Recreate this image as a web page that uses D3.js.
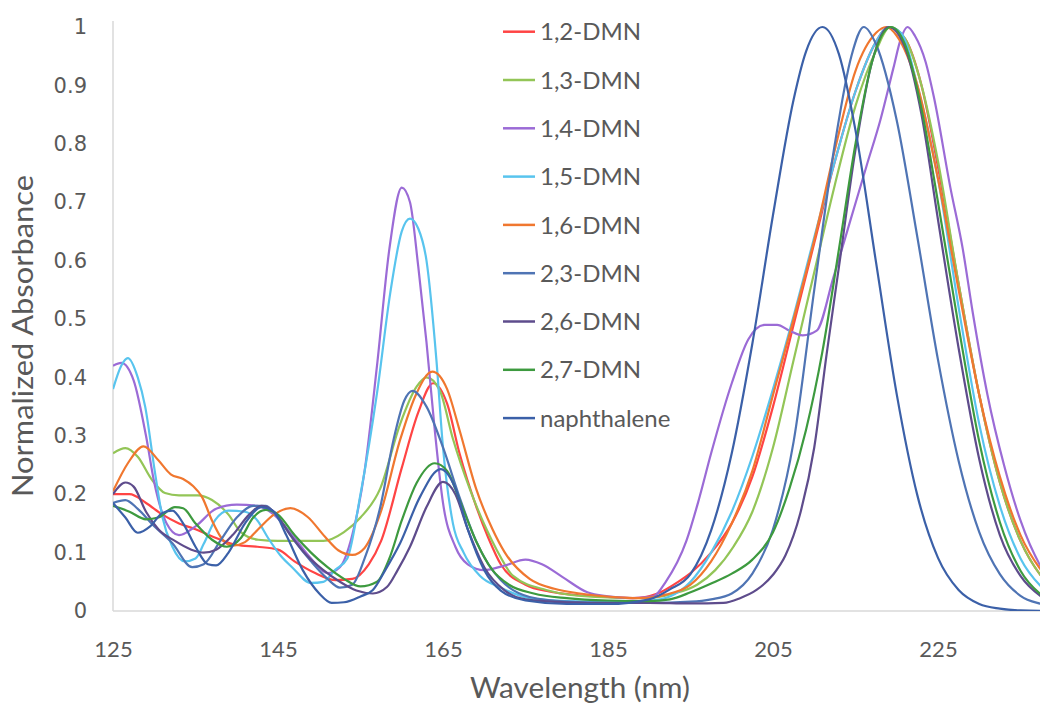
<!DOCTYPE html>
<html>
<head>
<meta charset="utf-8">
<script src="https://cdn.jsdelivr.net/npm/d3@7/dist/d3.min.js"></script>
<style>
  html, body { margin: 0; padding: 0; background: #ffffff; }
  svg { display: block; }
</style>
</head>
<body>
<div id="chart"></div>
<script>
// Normalized absorbance spectra of dimethylnaphthalene isomers and naphthalene.
// Each series is a list of [wavelength (nm), normalized absorbance] points.
const dmn12 = [[125,0.2],[127,0.2],[129,0.185],[131,0.165],[133,0.15],[135,0.14],[137.5,0.125],[140,0.113],[142.5,0.11],[145,0.105],[147,0.085],[149.5,0.065],[152,0.053],[154,0.055],[156,0.08],[157.5,0.12],[160,0.245],[162,0.34],[163.8,0.39],[165.5,0.355],[167,0.27],[169,0.18],[170.5,0.125],[172,0.08],[175,0.045],[178,0.033],[181.5,0.027],[185,0.024],[188,0.022],[191,0.03],[193.5,0.05],[195,0.065],[197.5,0.1],[200,0.15],[202.5,0.23],[205,0.35],[207.5,0.49],[210,0.63],[212.5,0.77],[215,0.89],[217.5,0.975],[219,1],[221,0.98],[223,0.9],[225,0.76],[227.5,0.56],[230,0.37],[232.5,0.22],[235,0.12],[237.5,0.06],[240,0.028]];

const dmn13 = [[125,0.27],[126.5,0.279],[128,0.264],[129.7,0.225],[131.3,0.202],[133,0.198],[135.3,0.198],[137,0.19],[139,0.165],[140.5,0.135],[142.6,0.122],[145,0.12],[147.5,0.12],[150.5,0.12],[153,0.135],[155,0.16],[157.4,0.21],[159.8,0.32],[161.8,0.384],[163,0.4],[164.6,0.378],[166.2,0.295],[168.3,0.207],[170.3,0.139],[171.5,0.105],[173.5,0.06],[177.5,0.036],[183.5,0.024],[189.5,0.022],[193,0.03],[195.8,0.045],[198,0.07],[200.2,0.11],[202.5,0.17],[205,0.28],[207.5,0.43],[210,0.58],[212.5,0.73],[215,0.865],[217.5,0.96],[219.2,1],[221,0.98],[223,0.9],[225,0.77],[227.5,0.56],[230,0.37],[232.5,0.22],[235,0.12],[237.5,0.06],[240,0.028]];

const dmn14 = [[125,0.42],[126,0.425],[127.5,0.395],[129,0.3],[130,0.22],[131.5,0.15],[133,0.13],[135,0.145],[137.5,0.175],[140,0.182],[142.5,0.18],[144.5,0.165],[147,0.125],[149,0.09],[151,0.065],[152.5,0.075],[154,0.13],[155.5,0.24],[157,0.42],[158.5,0.62],[160,0.725],[161,0.7],[162,0.59],[163,0.46],[164,0.31],[165,0.185],[166.5,0.11],[168,0.08],[170,0.07],[172.5,0.078],[175,0.088],[177,0.08],[179.5,0.058],[182.5,0.032],[185,0.025],[188,0.022],[190.5,0.025],[192,0.05],[194.5,0.12],[196,0.19],[197.5,0.27],[200,0.39],[202,0.465],[204,0.49],[205.5,0.49],[207,0.48],[208.6,0.472],[210.3,0.48],[212.3,0.57],[214.3,0.665],[216.4,0.765],[218,0.84],[219.6,0.93],[220.5,0.98],[221.3,1],[222.2,0.985],[223.5,0.94],[224.5,0.88],[226.5,0.725],[228,0.62],[229.2,0.512],[231,0.37],[233,0.25],[235,0.155],[237.5,0.075],[240,0.03]];

const dmn15 = [[125,0.38],[126,0.42],[126.8,0.433],[128,0.4],[128.9,0.35],[130.1,0.236],[131,0.16],[132.2,0.11],[133.7,0.085],[135,0.09],[136,0.115],[137.4,0.156],[139,0.172],[141,0.17],[142.5,0.155],[143.8,0.125],[145.3,0.095],[146.7,0.075],[149,0.048],[150.5,0.05],[151.9,0.07],[153.4,0.09],[155,0.2],[157,0.373],[158.6,0.544],[160,0.65],[161,0.672],[162,0.655],[163,0.6],[164.2,0.43],[165,0.28],[166.2,0.15],[167.5,0.1],[169.5,0.06],[172,0.04],[175.5,0.022],[180,0.017],[185,0.016],[190,0.018],[192.5,0.025],[195,0.05],[197.5,0.1],[200,0.17],[202.5,0.265],[205,0.38],[207.5,0.505],[210,0.64],[212.5,0.77],[215,0.89],[217.5,0.975],[219,1],[220.5,0.99],[222.5,0.9],[225,0.74],[227.5,0.52],[230,0.32],[232.5,0.18],[235,0.09],[237.5,0.042],[240,0.018]];

const dmn16 = [[125,0.205],[126.8,0.253],[128.7,0.282],[130.5,0.258],[132,0.234],[133.5,0.226],[134.7,0.214],[135.8,0.195],[137,0.155],[138.3,0.122],[139.5,0.112],[141,0.118],[142.6,0.14],[144.5,0.165],[146.5,0.176],[148.6,0.161],[150.7,0.127],[152.3,0.104],[154,0.096],[155.5,0.108],[157.4,0.167],[159.8,0.293],[161.8,0.373],[163.7,0.41],[165.5,0.38],[167,0.31],[169,0.21],[171,0.14],[172.5,0.1],[175.5,0.055],[178.5,0.038],[181.6,0.03],[185.6,0.024],[189,0.022],[192,0.028],[195,0.045],[197.5,0.085],[200,0.15],[202.5,0.24],[205,0.37],[207.5,0.5],[210,0.635],[212.5,0.79],[215,0.925],[217.5,0.99],[218.7,1],[220,0.985],[222.5,0.9],[225,0.74],[227.5,0.55],[230,0.37],[232.5,0.23],[235,0.13],[237.5,0.07],[240,0.035]];

const dmn23 = [[125,0.185],[126.5,0.19],[128,0.175],[130,0.145],[132.2,0.116],[134.6,0.075],[136,0.08],[138,0.12],[140,0.16],[142,0.18],[143.5,0.18],[145,0.16],[147,0.12],[149,0.085],[151,0.055],[152.5,0.04],[154,0.045],[155.5,0.09],[157.4,0.178],[159,0.293],[160.3,0.36],[161.3,0.377],[163,0.35],[165,0.28],[167,0.195],[169,0.12],[170.5,0.08],[172,0.053],[175.5,0.024],[180,0.016],[185,0.014],[190,0.014],[195,0.016],[197.5,0.02],[200,0.03],[202.5,0.064],[205,0.14],[207.5,0.29],[210,0.55],[212.5,0.8],[214.5,0.95],[216,1],[217.5,0.97],[220,0.84],[222.5,0.64],[225,0.43],[227.5,0.257],[230,0.135],[232.5,0.063],[235,0.026],[237.5,0.012],[240,0.005]];

const dmn26 = [[125,0.2],[126.5,0.22],[127.5,0.213],[129,0.17],[130.5,0.14],[132.5,0.12],[134.5,0.105],[136,0.1],[137.5,0.105],[139.5,0.13],[141.5,0.165],[143,0.18],[144.5,0.17],[146.5,0.13],[148.5,0.095],[150.5,0.07],[152.5,0.05],[154.5,0.035],[156.5,0.03],[158.2,0.041],[159.5,0.07],[161,0.11],[163,0.178],[165,0.221],[166.5,0.2],[168,0.14],[170,0.075],[172.5,0.035],[175,0.02],[180,0.015],[185,0.014],[190,0.014],[195,0.013],[199,0.014],[201,0.022],[203,0.036],[205,0.062],[206.5,0.095],[208.3,0.167],[210,0.28],[211.5,0.44],[213,0.59],[215,0.79],[217,0.94],[219,1],[221,0.965],[223,0.85],[225,0.67],[227.5,0.45],[230,0.26],[232.5,0.13],[235,0.06],[237.5,0.025],[240,0.01]];

const dmn27 = [[125,0.18],[127,0.17],[129,0.157],[130.5,0.16],[132.5,0.178],[133.5,0.176],[135,0.15],[137,0.122],[138.8,0.11],[140.5,0.125],[142,0.16],[143.5,0.173],[145,0.165],[147,0.13],[149,0.1],[151,0.075],[153,0.055],[155,0.042],[157,0.05],[158.5,0.09],[160,0.155],[161.8,0.219],[164,0.253],[165.5,0.24],[167,0.19],[169,0.12],[171,0.07],[173,0.045],[176,0.03],[180,0.022],[185,0.018],[190,0.017],[192.5,0.02],[195,0.032],[197.5,0.047],[200,0.064],[202.5,0.088],[205,0.135],[207,0.21],[209,0.31],[211,0.445],[213,0.62],[215,0.8],[217,0.94],[219.3,1],[221,0.97],[223,0.86],[225,0.7],[227.5,0.487],[230,0.29],[232.5,0.152],[235,0.069],[237.5,0.028],[240,0.01]];

const naphthalene = [[125,0.185],[126.5,0.16],[128,0.134],[129.5,0.145],[131,0.168],[132.2,0.172],[133.5,0.15],[135,0.11],[136.5,0.08],[137.5,0.078],[139,0.1],[141,0.15],[143,0.178],[144.5,0.17],[146,0.13],[148,0.07],[150,0.03],[151.5,0.014],[153,0.015],[155,0.025],[156.5,0.036],[158,0.07],[159.8,0.116],[162.2,0.195],[164.7,0.243],[166.5,0.21],[168,0.14],[170,0.07],[172,0.035],[175,0.018],[180,0.012],[185,0.012],[190,0.02],[192.5,0.037],[195,0.063],[197.5,0.138],[200,0.27],[202.5,0.458],[205,0.678],[207.5,0.876],[209,0.958],[211,1],[213,0.953],[215,0.823],[217.5,0.596],[220,0.371],[222.5,0.198],[225,0.091],[227.5,0.036],[230,0.012],[232.5,0.004],[235,0.001],[240,0]];

const seriesNames = ["1,2-DMN","1,3-DMN","1,4-DMN","1,5-DMN","1,6-DMN","2,3-DMN","2,6-DMN","2,7-DMN","naphthalene"];
const seriesData = [dmn12, dmn13, dmn14, dmn15, dmn16, dmn23, dmn26, dmn27, naphthalene];
const seriesColors = ["#ff4444","#93c557","#9b6bd6","#58c4ee","#f0772f","#4f74b4","#5e4c8c","#3d9a3f","#3b60a8"];

const xTicks = [125, 145, 165, 185, 205, 225];
const yTicks = [0, 0.1, 0.2, 0.3, 0.4, 0.5, 0.6, 0.7, 0.8, 0.9, 1];

const W = 1040, H = 704;
const svg = d3.select("#chart").append("svg")
  .attr("width", W).attr("height", H)
  .style("background", "#ffffff");

const x = d3.scaleLinear().domain([125, 240]).range([113, 1061.75]);
const y = d3.scaleLinear().domain([0, 1]).range([611, 27]);

const textColor = "#595959";
const axisColor = "#d9d9d9";

// axes frame
svg.append("line")
  .attr("x1", x(125)).attr("x2", W)
  .attr("y1", y(0)).attr("y2", y(0))
  .attr("stroke", axisColor).attr("stroke-width", 1.5);
svg.append("line")
  .attr("x1", x(125)).attr("x2", x(125))
  .attr("y1", y(1) - 6).attr("y2", y(0))
  .attr("stroke", axisColor).attr("stroke-width", 1.5);

// y tick labels
const yAxis = d3.axisLeft(y).tickValues(yTicks).tickSize(0).tickPadding(0)
  .tickFormat(d => d3.format("")(+d.toFixed(1)));
const gy = svg.append("g").attr("transform", "translate(87,0)").call(yAxis);
gy.select(".domain").remove();
gy.selectAll("text")
  .attr("fill", textColor)
  .style("font-family", "'DejaVu Sans', Verdana, sans-serif")
  .style("font-size", "21px");

// x tick labels
const xAxis = d3.axisBottom(x).tickValues(xTicks).tickSize(0).tickPadding(0);
const gx = svg.append("g").attr("transform", "translate(0,640)").call(xAxis);
gx.select(".domain").remove();
gx.selectAll("text")
  .attr("fill", textColor)
  .attr("dy", "0.75em")
  .style("font-family", "Lato, 'Open Sans', sans-serif")
  .style("font-size", "22px");

// axis titles
svg.append("text")
  .attr("x", 580).attr("y", 698)
  .attr("text-anchor", "middle")
  .attr("fill", textColor)
  .style("font-family", "Lato, 'Open Sans', sans-serif")
  .style("font-size", "28px")
  .attr("textLength", 220).attr("lengthAdjust", "spacingAndGlyphs")
  .text("Wavelength (nm)");

svg.append("text")
  .attr("transform", "translate(33,336) rotate(-90)")
  .attr("text-anchor", "middle")
  .attr("fill", textColor)
  .style("font-family", "Lato, 'Open Sans', sans-serif")
  .style("font-size", "28px")
  .attr("textLength", 322).attr("lengthAdjust", "spacingAndGlyphs")
  .text("Normalized Absorbance");

// spectra
const clip = svg.append("clipPath").attr("id", "plot-clip")
  .append("rect").attr("x", x(125)).attr("y", 0).attr("width", W - x(125)).attr("height", y(0));

const line = d3.line()
  .x(d => x(d[0]))
  .y(d => y(d[1]))
  .curve(d3.curveMonotoneX);

svg.append("g").attr("clip-path", "url(#plot-clip)")
  .selectAll("path")
  .data(seriesData)
  .join("path")
  .attr("d", line)
  .attr("fill", "none")
  .attr("stroke", (d, i) => seriesColors[i])
  .attr("stroke-width", 2.2)
  .attr("stroke-linejoin", "round");

// legend
const legend = svg.append("g");
const leg = legend.selectAll("g")
  .data(seriesNames)
  .join("g")
  .attr("transform", (d, i) => `translate(503,${31.7 + i * 48.3})`);
leg.append("line")
  .attr("x1", 0).attr("x2", 32)
  .attr("stroke", (d, i) => seriesColors[i])
  .attr("stroke-width", 2.5);
leg.append("text")
  .attr("x", 37).attr("dy", "0.36em")
  .attr("fill", textColor)
  .style("font-family", "Lato, 'Open Sans', sans-serif")
  .style("font-size", "24px")
  .text(d => d);
</script>
</body>
</html>
